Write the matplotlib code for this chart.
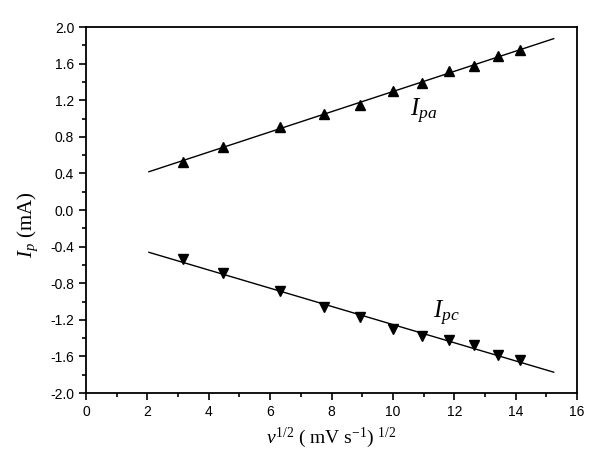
import matplotlib.pyplot as plt
import numpy as np
from matplotlib.ticker import MultipleLocator

plt.rcParams['mathtext.fontset'] = 'custom'
plt.rcParams['mathtext.rm'] = 'Liberation Serif'
plt.rcParams['mathtext.it'] = 'Liberation Serif:italic'

# square root of scan rate
sqrt_v = [3.16, 4.47, 6.32, 7.75, 8.94, 10.0, 10.95, 11.83, 12.65, 13.42, 14.14]
ipa = [0.53, 0.69, 0.91, 1.05, 1.15, 1.30, 1.39, 1.52, 1.57, 1.68, 1.75]
ipc = [-0.54, -0.69, -0.88, -1.06, -1.17, -1.30, -1.38, -1.42, -1.48, -1.58, -1.64]

fit_x = [2.05, 15.24]
pa_fit = np.polyfit(sqrt_v, ipa, 1)
pc_fit = np.polyfit(sqrt_v, ipc, 1)

fig = plt.figure(figsize=(6, 4.73), dpi=100)
ax = fig.add_axes([86/600, 1-393/473, (577-86)/600, (393-27)/473])

xf = np.array(fit_x)
ax.plot(xf, np.polyval(pa_fit, xf), color='black', lw=1)
ax.plot(xf, np.polyval(pc_fit, xf), color='black', lw=1)
ax.plot(sqrt_v, ipa, ls='none', marker='^', color='black', ms=7)
ax.plot(sqrt_v, ipc, ls='none', marker='v', color='black', ms=7)

ax.text(11.0, 1.08, r'$I_{pa}$', fontsize=18, ha='center', va='center')
ax.text(11.75, -1.13, r'$I_{pc}$', fontsize=18, ha='center', va='center')

ax.set_xlim(0, 16)
ax.set_ylim(-2.0, 2.0)
ax.xaxis.set_major_locator(MultipleLocator(2))
ax.xaxis.set_minor_locator(MultipleLocator(1))
ax.yaxis.set_major_locator(MultipleLocator(0.4))
ax.yaxis.set_minor_locator(MultipleLocator(0.2))
ax.yaxis.set_major_formatter(plt.FuncFormatter(lambda v, p: f'{v:.1f}'))
ax.tick_params(which='both', direction='out', top=False, right=False)
ax.tick_params(which='major', length=5, width=1.2, labelsize=10)
ax.tick_params(which='minor', length=3, width=1.2)
for lbl in ax.get_xticklabels() + ax.get_yticklabels():
    lbl.set_fontfamily('Liberation Sans')
for s in ax.spines.values():
    s.set_linewidth(1.3)

ax.set_xlabel(r'$v^{1/2}$ ( mV s$^{\mathrm{-1}}$) $^{\mathrm{1/2}}$', fontsize=14,
              family='Liberation Serif')
ax.xaxis.set_label_coords(0.5, -0.09)
ax.set_ylabel(r'$I_p$ (mA)', fontsize=15, family='Liberation Serif')
ax.yaxis.set_label_coords(-0.093, 0.46)

fig.savefig('out.png', dpi=100)
